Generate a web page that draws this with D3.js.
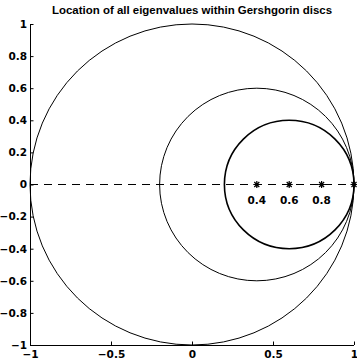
<!DOCTYPE html>
<html><head><meta charset="utf-8">
<script src="https://cdn.jsdelivr.net/npm/d3@7"></script>
<style>body{margin:0;background:#fff;} text{font-family:"DejaVu Sans",sans-serif;font-weight:bold;}</style>
</head><body>
<svg id="c" width="357" height="363"></svg>
<script>
const titleText = "Location of all eigenvalues within Gershgorin discs";
const discCenters = [0, 0.4, 0.6];
const discRadii = [1, 0.6, 0.4];
const discWidths = [1, 1, 1.6];
const eigenvalues = [0.4, 0.6, 0.8, 1];
const eigenLabels = ["0.4", "0.6", "0.8"];
const xTicks = [-1, -0.5, 0, 0.5, 1];
const yTicks = [-1, -0.8, -0.6, -0.4, -0.2, 0, 0.2, 0.4, 0.6, 0.8, 1];

const svg = d3.select("#c");
const L = 30, R = 354, T = 24, B = 345;
const x = d3.scaleLinear().domain([-1, 1]).range([L, R]);
const y = d3.scaleLinear().domain([-1, 1]).range([B, T]);

svg.append("text").attr("x", 192).attr("y", 14).attr("text-anchor", "middle")
  .style("font-family", "Liberation Sans, Arial, sans-serif")
  .attr("font-size", 10.2).attr("textLength", 280).attr("lengthAdjust", "spacingAndGlyphs")
  .text(titleText);

// discs
svg.selectAll("ellipse.d").data(discCenters).enter().append("ellipse")
  .attr("cx", d => x(d)).attr("cy", y(0))
  .attr("rx", (d, i) => x(discRadii[i]) - x(0))
  .attr("ry", (d, i) => y(0) - y(discRadii[i]))
  .attr("fill", "none").attr("stroke", "#000").attr("stroke-width", (d, i) => discWidths[i]);

// dashed real axis
svg.append("line").attr("x1", x(-1)).attr("x2", x(1)).attr("y1", y(0)).attr("y2", y(0))
  .attr("stroke", "#000").attr("stroke-dasharray", "8,6");

// eigenvalue stars
const s = 3.5;
eigenvalues.forEach(v => {
  const cx = x(v), cy = y(0);
  const p = `M${cx-s},${cy}L${cx+s},${cy}M${cx},${cy-s}L${cx},${cy+s}` +
    `M${cx-s*0.72},${cy-s*0.72}L${cx+s*0.72},${cy+s*0.72}M${cx-s*0.72},${cy+s*0.72}L${cx+s*0.72},${cy-s*0.72}`;
  svg.append("path").attr("d", p).attr("stroke", "#000").attr("stroke-width", 1.2).attr("fill", "none");
});
eigenLabels.forEach((t, i) => {
  svg.append("text").attr("x", x(eigenvalues[i])).attr("y", y(0) + 19)
    .attr("text-anchor", "middle").attr("font-size", 10.5).text(t);
});

// axes
const fmt = d => d3.format("")(+d.toFixed(1));
const xa = svg.append("g").attr("transform", `translate(0,${B})`)
  .call(d3.axisBottom(x).tickValues(xTicks).tickSize(-3.5).tickPadding(3).tickFormat(fmt));
const ya = svg.append("g").attr("transform", `translate(${L},0)`)
  .call(d3.axisLeft(y).tickValues(yTicks).tickSize(-3.5).tickPadding(3).tickFormat(fmt));
[xa, ya].forEach(g => {
  g.select(".domain").attr("stroke", "#000").attr("d", g === xa ? `M${L},0.5H${R}` : `M0.5,${T}V${B}`);
  g.selectAll("text").attr("font-size", 10.5).attr("fill", "#000")
    .style("font-family", "DejaVu Sans, sans-serif").style("font-weight", "bold");
  g.selectAll("line").attr("stroke", "#000");
});
xa.selectAll("text").attr("y", 6);
</script>
</body></html>
